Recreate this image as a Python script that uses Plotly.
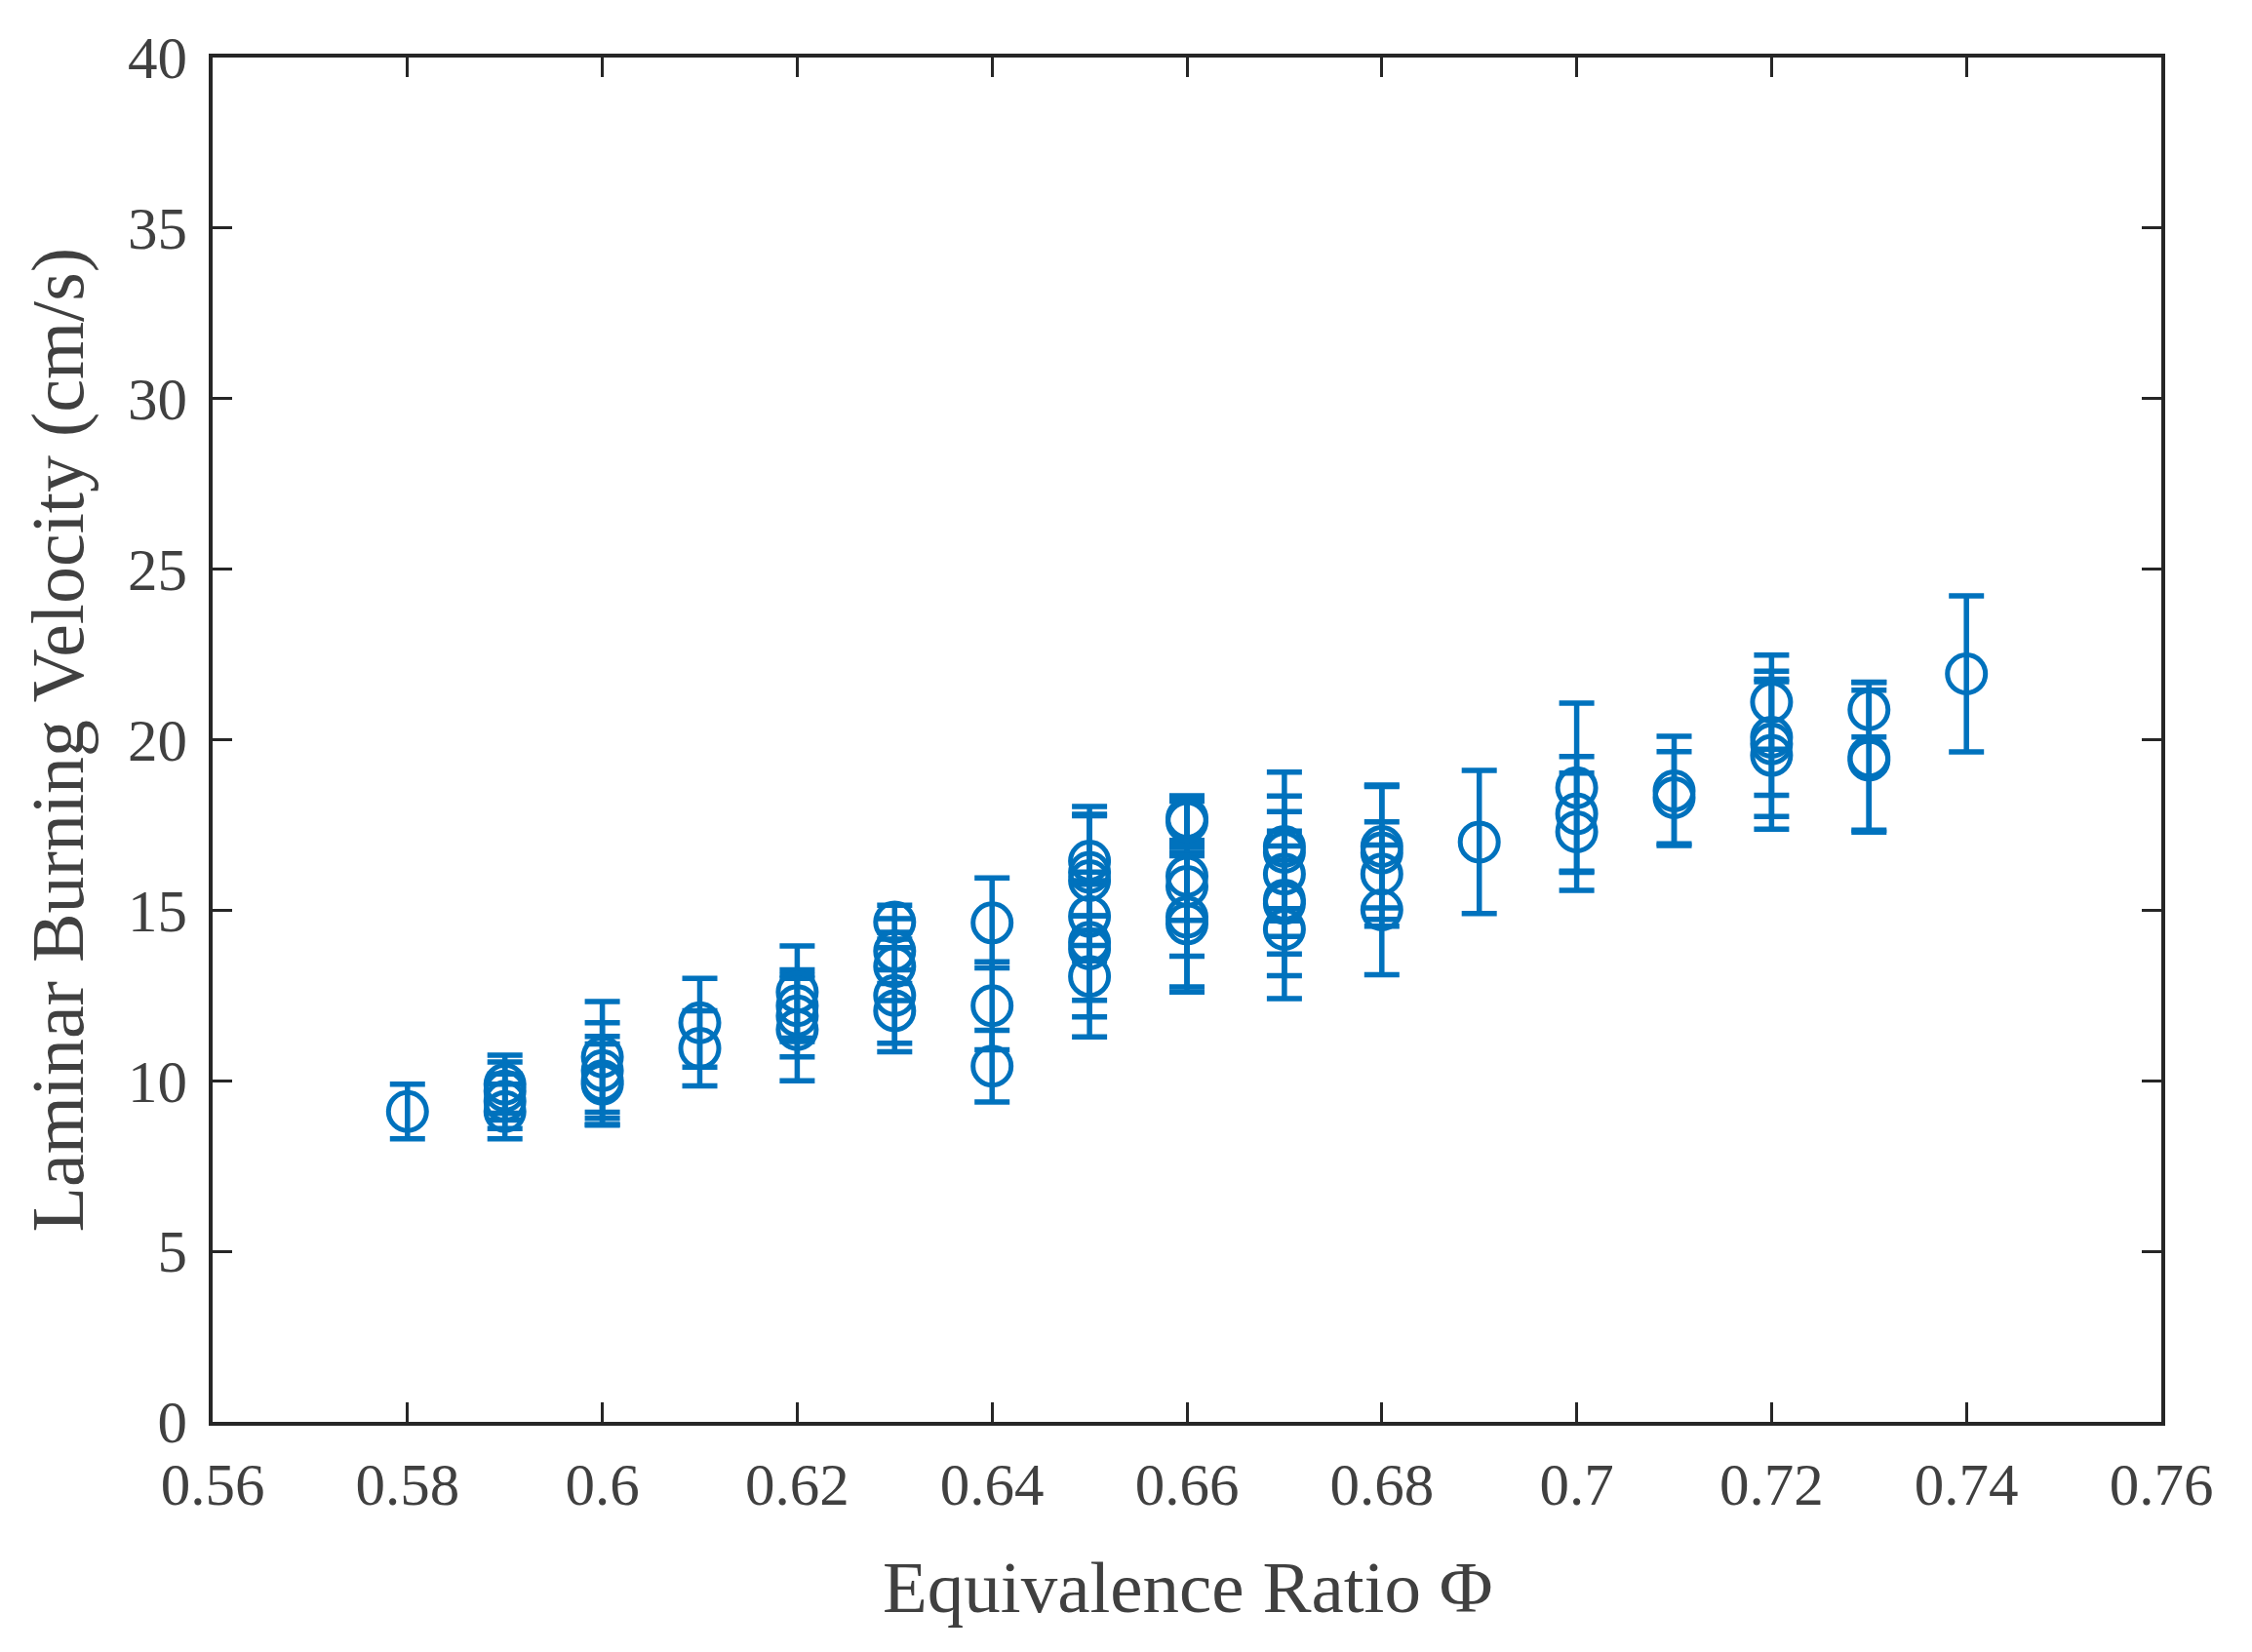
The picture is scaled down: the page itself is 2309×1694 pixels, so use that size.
import plotly.graph_objects as go

# Equivalence ratio for each measurement
phi = [0.58,
       0.59, 0.59, 0.59, 0.59,
       0.60, 0.60, 0.60, 0.60,
       0.61, 0.61,
       0.62, 0.62, 0.62, 0.62,
       0.63, 0.63, 0.63, 0.63, 0.63,
       0.64, 0.64, 0.64,
       0.65, 0.65, 0.65, 0.65, 0.65, 0.65, 0.65,
       0.66, 0.66, 0.66, 0.66, 0.66, 0.66,
       0.67, 0.67, 0.67, 0.67, 0.67, 0.67,
       0.68, 0.68, 0.68, 0.68,
       0.69,
       0.70, 0.70, 0.70,
       0.71, 0.71,
       0.72, 0.72, 0.72, 0.72,
       0.73, 0.73, 0.73,
       0.74]

# Laminar burning velocity (cm/s)
velocity = [9.1,
            9.9, 9.7, 9.4, 9.1,
            10.7, 10.3, 10.0, 9.9,
            11.7, 10.95,
            12.6, 12.2, 11.9, 11.5,
            14.65, 13.8, 13.35, 12.5, 12.05,
            14.63, 12.2, 10.43,
            16.44, 16.11, 15.87, 14.82, 14.06, 13.87, 13.06,
            17.7, 17.6, 16.0, 15.7, 14.8, 14.6,
            16.87, 16.7, 16.06, 15.3, 15.2, 14.44,
            16.87, 16.68, 16.06, 15.01,
            17.0,
            18.59, 17.83, 17.3,
            18.5, 18.3,
            21.1, 20.07, 19.88, 19.54,
            20.88, 19.49, 19.4,
            21.93]

# Uncertainty (cm/s)
error = [0.8,
         0.85, 0.85, 0.8, 0.8,
         1.62, 1.4, 1.3, 1.18,
         1.3, 1.1,
         1.35, 1.05, 1.2, 1.5,
         0.5, 0.95, 1.0, 1.4, 1.2,
         1.32, 1.29, 1.05,
         1.6, 1.7, 1.9, 1.3, 1.7, 2.0, 1.77,
         0.65, 0.6, 2.35, 1.0, 2.05, 2.0,
         2.18, 1.65, 1.83, 1.58, 2.12, 2.03,
         1.8, 1.95, 1.53, 1.9,
         2.1,
         2.48, 1.68, 1.72,
         1.6, 1.35,
         1.38, 1.7, 2.13, 2.16,
         0.8, 2.2, 2.05,
         2.29]

x_ticks = [0.56, 0.58, 0.60, 0.62, 0.64, 0.66, 0.68, 0.70, 0.72, 0.74, 0.76]
x_tick_labels = ["0.56", "0.58", "0.6", "0.62", "0.64", "0.66", "0.68", "0.7", "0.72", "0.74", "0.76"]
y_ticks = [0, 5, 10, 15, 20, 25, 30, 35, 40]

blue = "#0072BD"
axis_col = "#262626"
text_col = "#404040"
font_family = "Liberation Serif, Times New Roman, serif"

fig = go.Figure()
fig.add_trace(go.Scatter(
    x=phi, y=velocity, mode="markers",
    marker=dict(symbol="circle-open", size=39, color=blue, line=dict(width=5, color=blue)),
    error_y=dict(type="data", array=error, visible=True, color=blue, thickness=5.5, width=18),
    showlegend=False,
))

# page has an 8px body margin; compensate so the plot area lands at 218..2216 x 59..1458
W, H = 2293, 1678
L, T = 210, 51
PW, PH = 1998, 1399
R = W - L - PW
B = H - T - PH

axis_common = dict(
    showline=True, linecolor=axis_col, linewidth=3.5, mirror="allticks",
    ticks="inside", ticklen=20, tickwidth=3, tickcolor=axis_col,
    showgrid=False, zeroline=False,
    tickfont=dict(family=font_family, size=61, color=text_col),
)

fig.update_layout(
    width=W, height=H,
    margin=dict(l=L, r=R, t=T, b=B, pad=0),
    paper_bgcolor="white", plot_bgcolor="white",
    xaxis=dict(range=[0.56, 0.76], tickvals=x_ticks, ticktext=x_tick_labels,
               ticklabelstandoff=8, **axis_common),
    yaxis=dict(range=[0, 40], tickvals=y_ticks, ticklabelstandoff=10, **axis_common),
    annotations=[
        dict(text="Equivalence Ratio Φ", xref="paper", yref="paper",
             x=0.5, y=(1458 - 1627) / PH, xanchor="center", yanchor="middle",
             showarrow=False, font=dict(family=font_family, size=75, color=text_col)),
        dict(text="Laminar Burning Velocity (cm/s)", xref="paper", yref="paper",
             x=(59 - 218) / PW, y=0.5, xanchor="center", yanchor="middle", textangle=-90,
             showarrow=False, font=dict(family=font_family, size=76, color=text_col)),
    ],
)

fig.write_html("out.html")
